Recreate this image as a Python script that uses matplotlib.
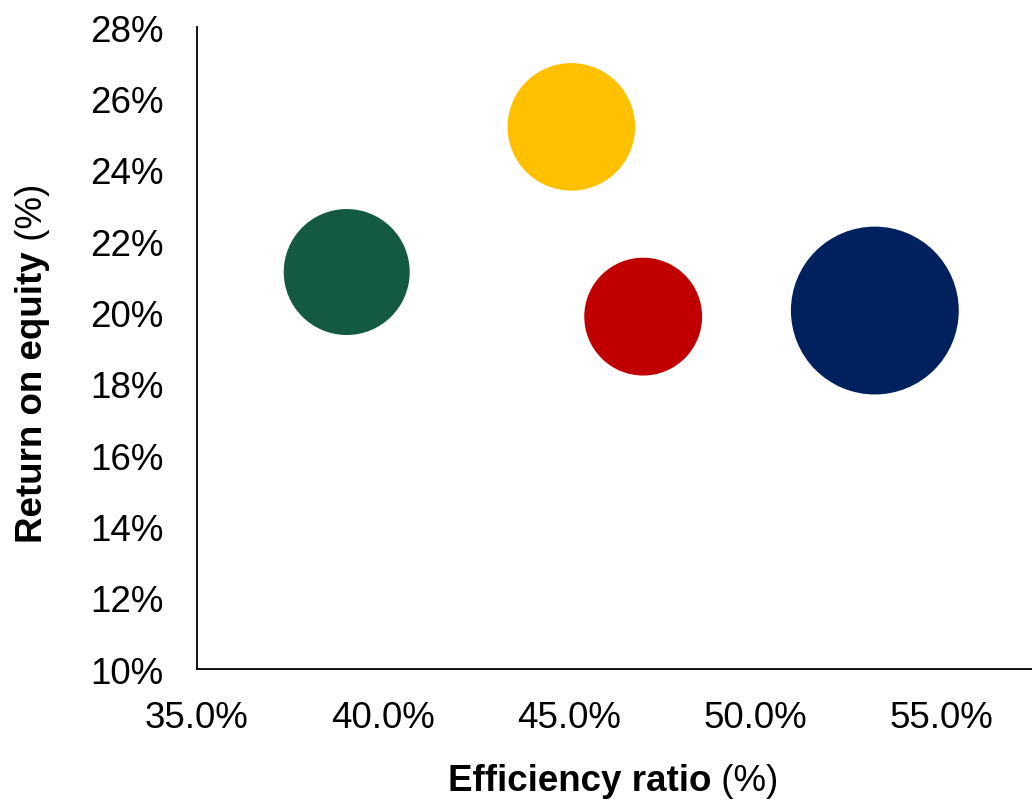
import matplotlib
matplotlib.use("Agg")
import matplotlib.pyplot as plt
from matplotlib.ticker import FuncFormatter

plt.rcParams['font.family'] = ['Liberation Sans', 'DejaVu Sans']

# Bank peers: efficiency ratio (%), return on equity (%), bubble size (relative)
banks = ["Bank A", "Bank B", "Bank C", "Bank D"]
efficiency_ratio = [39.02, 45.05, 46.98, 53.2]
return_on_equity = [21.13, 25.2, 19.88, 20.05]
bubble_size = [40, 41, 35, 71]
colors = ["#135A41", "#FFC000", "#C00000", "#00215E"]

x_ticks = [35, 40, 45, 50, 55]
y_ticks = [10, 12, 14, 16, 18, 20, 22, 24, 26, 28]

size_scale = 205.7

fig = plt.figure(figsize=(10.32, 8.03), dpi=100)
ax = fig.add_axes([197 / 1032, 133 / 803, 835 / 1032, 642 / 803])

ax.scatter(efficiency_ratio, return_on_equity,
           s=[v * size_scale for v in bubble_size],
           c=colors, edgecolors="none", zorder=3, clip_on=False)

ax.set_xlim(35, 57.42)
ax.set_ylim(10, 28)
ax.set_xticks(x_ticks)
ax.set_yticks(y_ticks)
ax.xaxis.set_major_formatter(FuncFormatter(lambda v, p: f"{v:.1f}%"))
ax.yaxis.set_major_formatter(FuncFormatter(lambda v, p: f"{v:.0f}%"))
ax.tick_params(axis="both", length=0, labelsize=26.5)
ax.tick_params(axis="x", pad=22)
ax.tick_params(axis="y", pad=24)

for side in ("top", "right"):
    ax.spines[side].set_visible(False)
for side in ("left", "bottom"):
    ax.spines[side].set_linewidth(1.3)
    ax.spines[side].set_color("black")

# Axis titles: bold name followed by regular-weight unit
xt = fig.text(448 / 1032, 1 - 778 / 803, "Efficiency ratio", fontsize=26.5,
              fontweight="bold", ha="left", va="center_baseline")
fig.canvas.draw()
ax.annotate(" (%)", xy=(1, 0), xycoords=xt, fontsize=26.5,
            ha="left", va="bottom")

yt = fig.text(33 / 1032, 1 - 543 / 803, "Return on equity", fontsize=26.5,
              fontweight="bold", rotation=90, ha="center", va="bottom")
ax.annotate(" (%)", xy=(0.5, 1), xycoords=yt, fontsize=26.5, rotation=90,
            ha="center", va="bottom")

fig.savefig("out.png", dpi=100)
